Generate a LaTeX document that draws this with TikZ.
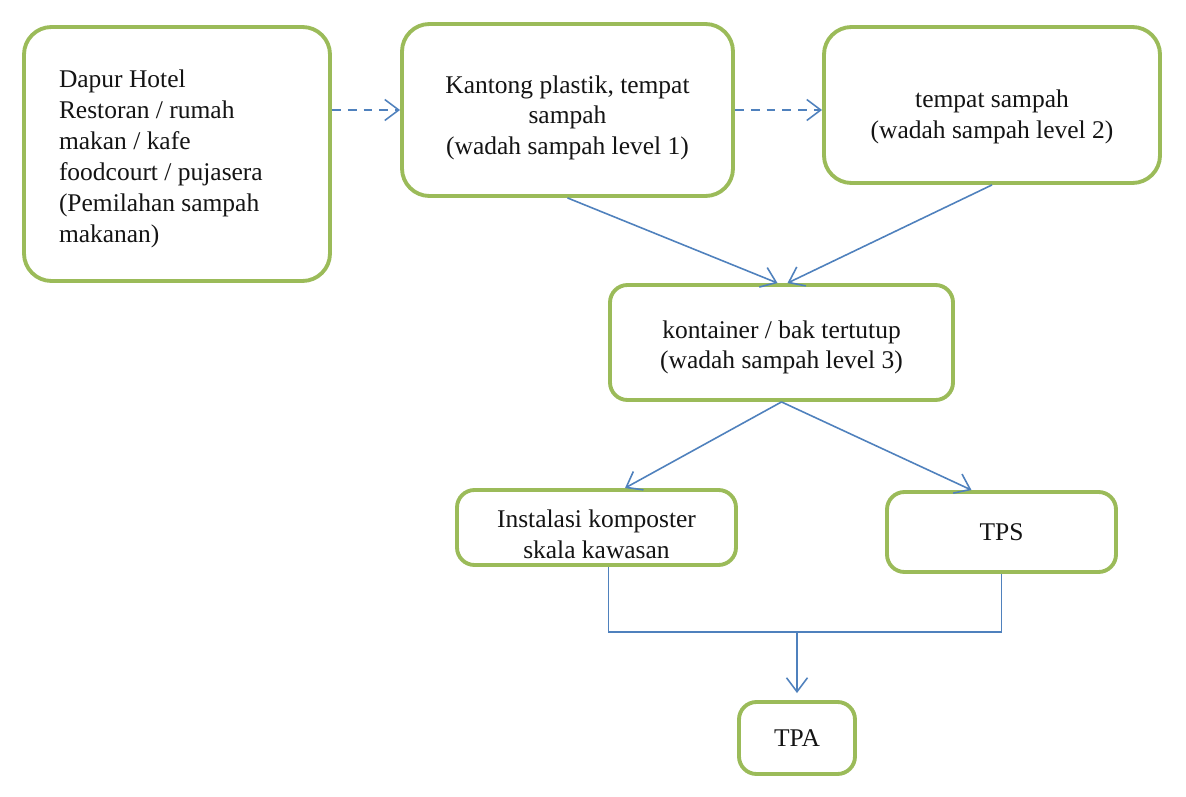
\documentclass[tikz,border=0pt]{standalone}
\usepackage{fontspec}
\setmainfont{Liberation Serif}
\usepackage{xcolor}
\usetikzlibrary{arrows.meta}
\definecolor{boxgreen}{RGB}{155,187,89}
\definecolor{linkblue}{RGB}{79,129,189}
\definecolor{ink}{RGB}{20,20,20}

\begin{document}
\begin{tikzpicture}[
  wbox/.style={draw=boxgreen, line width=2.2pt, rounded corners=0.55cm, fill=white,
    text=ink, font=\fontsize{14.5}{17.6}\selectfont, align=center, inner sep=2pt},
  sbox/.style={wbox, rounded corners=0.35cm},
  link/.style={draw=linkblue, line width=0.9pt},
  flow/.style={link, -{Straight Barb[length=2.8mm, width=4.2mm, line width=0.9pt]}},
  dflow/.style={flow, dash pattern=on 5pt off 4pt}
]
  \useasboundingbox (0,0) rectangle (23.72,-15.94);
  \fill[white] (0,0) rectangle (23.72,-15.94);

  % boxes
  \node[wbox, minimum width=6.12cm, minimum height=5.08cm, text width=4.72cm, align=flush left, inner xsep=0.7cm]
    (dapur) at (3.54,-3.08) {\rule{0pt}{15.6pt}Dapur Hotel\\Restoran / rumah\\makan / kafe\\foodcourt / pujasera\\(Pemilahan sampah\\makanan)};
  \node[wbox, minimum width=6.62cm, minimum height=3.44cm] (kantong) at (11.35,-2.2)
    {\rule{0pt}{19pt}Kantong plastik, tempat\\sampah\\(wadah sampah level 1)};
  \node[wbox, minimum width=6.72cm, minimum height=3.12cm] (tempat) at (19.84,-2.1)
    {\rule{0pt}{23.6pt}tempat sampah\\(wadah sampah level 2)};
  \node[sbox, minimum width=6.86cm, minimum height=2.3cm] (kontainer) at (15.63,-6.85)
    {\rule{0pt}{15.6pt}kontainer / bak tertutup\\(wadah sampah level 3)};
  \node[sbox, minimum width=5.58cm, minimum height=1.5cm] (komposter) at (11.93,-10.55)
    {\rule{0pt}{18pt}Instalasi komposter\\skala kawasan};
  \node[sbox, minimum width=4.58cm, minimum height=1.6cm] (tps) at (20.03,-10.64) {TPS};
  \node[sbox, minimum width=2.32cm, minimum height=1.44cm] (tpa) at (15.94,-14.76) {TPA};

  % connectors
  \draw[dflow] (dapur.east |- kantong.west) -- (kantong.west);
  \draw[dflow] (kantong.east) -- (kantong.east -| tempat.west);
  \draw[flow] (kantong.south) -- ([xshift=-0.08cm]kontainer.north);
  \draw[flow] (tempat.south) -- ([xshift=0.12cm]kontainer.north);
  \draw[flow] (kontainer.south) -- ([xshift=0.57cm]komposter.north);
  \draw[flow] (kontainer.south) -- ([xshift=-0.6cm]tps.north);
  \coordinate (join) at (15.94,-12.64);
  \draw[link] ([xshift=0.24cm]komposter.south) |- (join) -| (tps.south);
  \draw[flow] (join) -- ([yshift=0.14cm]tpa.north);
\end{tikzpicture}
\end{document}
